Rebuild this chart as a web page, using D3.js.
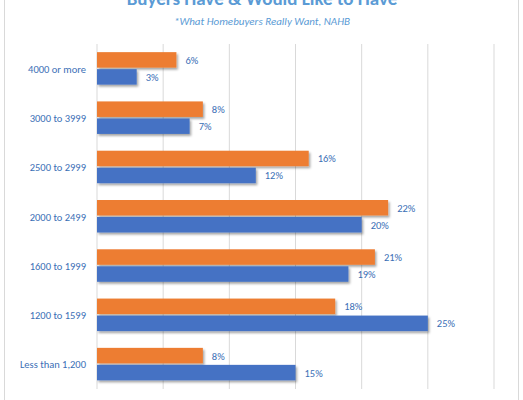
<!DOCTYPE html>
<html><head><meta charset="utf-8">
<script src="https://cdn.jsdelivr.net/npm/d3@7"></script>
<style>body{margin:0;background:#fff;font-family:Calibri,Carlito,"Open Sans",Arial,sans-serif}</style>
</head><body><div class="chart"></div>
<script>
var categories = ['4000 or more','3000 to 3999','2500 to 2999','2000 to 2499','1600 to 1999','1200 to 1599','Less than 1,200'];
var wouldLike = [6, 8, 16, 22, 21, 18, 8];
var have = [3, 7, 12, 20, 19, 25, 15];
var ticks = [0, 5, 10, 15, 20, 25, 30];

var width = 523, height = 400;
var svg = d3.select('.chart').append('svg').attr('width', width).attr('height', height);

var defs = svg.append('defs');
var f = defs.append('filter').attr('id', 'sh').attr('x', '-10%').attr('y', '-30%').attr('width', '130%').attr('height', '180%');
f.append('feDropShadow').attr('dx', 1.5).attr('dy', 2).attr('stdDeviation', 1.2).attr('flood-color', '#000').attr('flood-opacity', 0.35);

svg.append('rect').attr('x', 4.5).attr('y', -5).attr('width', 514).attr('height', 410)
  .attr('fill', 'none').attr('stroke', '#d9d9d9');

// title is partly above the top edge, as in the reference
svg.append('text').attr('x', 262).attr('y', 5).attr('text-anchor', 'middle')
  .attr('font-size', 19).attr('font-weight', 'bold').attr('fill', '#5b9bd5')
  .text('Buyers Have & Would Like to Have');
svg.append('text').attr('x', 262).attr('y', 25).attr('text-anchor', 'middle')
  .attr('font-size', 11).attr('font-style', 'italic').attr('fill', '#5b9bd5')
  .text('*What Homebuyers Really Want, NAHB');

var x = d3.scaleLinear().domain([0, 30]).range([97, 494]);
var y = d3.scaleBand().domain(categories).range([44, 389]);

svg.append('g').selectAll('line').data(ticks).enter().append('line')
  .attr('x1', x).attr('x2', x).attr('y1', 44).attr('y2', 389)
  .attr('stroke', '#d9d9d9');

svg.append('g').selectAll('text').data(categories).enter().append('text')
  .attr('x', 86).attr('y', function(d) { return y(d) + y.bandwidth() / 2 + 4; })
  .attr('text-anchor', 'end').attr('font-size', 10.5).attr('fill', '#3b6fb6')
  .text(function(d) { return d; });

var bh = 15.5, mid = function(i) { return y(categories[i]) + y.bandwidth() / 2; };

function drawSeries(vals, color, offset) {
  var g = svg.append('g');
  g.selectAll('rect').data(vals).enter().append('rect')
    .attr('x', x(0)).attr('y', function(d, i) { return mid(i) + offset; })
    .attr('width', function(d) { return x(d) - x(0); }).attr('height', bh)
    .attr('fill', color).attr('filter', 'url(#sh)');
  g.selectAll('text').data(vals).enter().append('text')
    .attr('x', function(d) { return x(d) + 9; })
    .attr('y', function(d, i) { return mid(i) + offset + bh / 2 + 4; })
    .attr('font-size', 10.5).attr('fill', '#3b6fb6')
    .text(function(d) { return d + '%'; });
}
drawSeries(wouldLike, '#ed7d31', -16.5);
drawSeries(have, '#4472c4', 0.5);
</script></body></html>
